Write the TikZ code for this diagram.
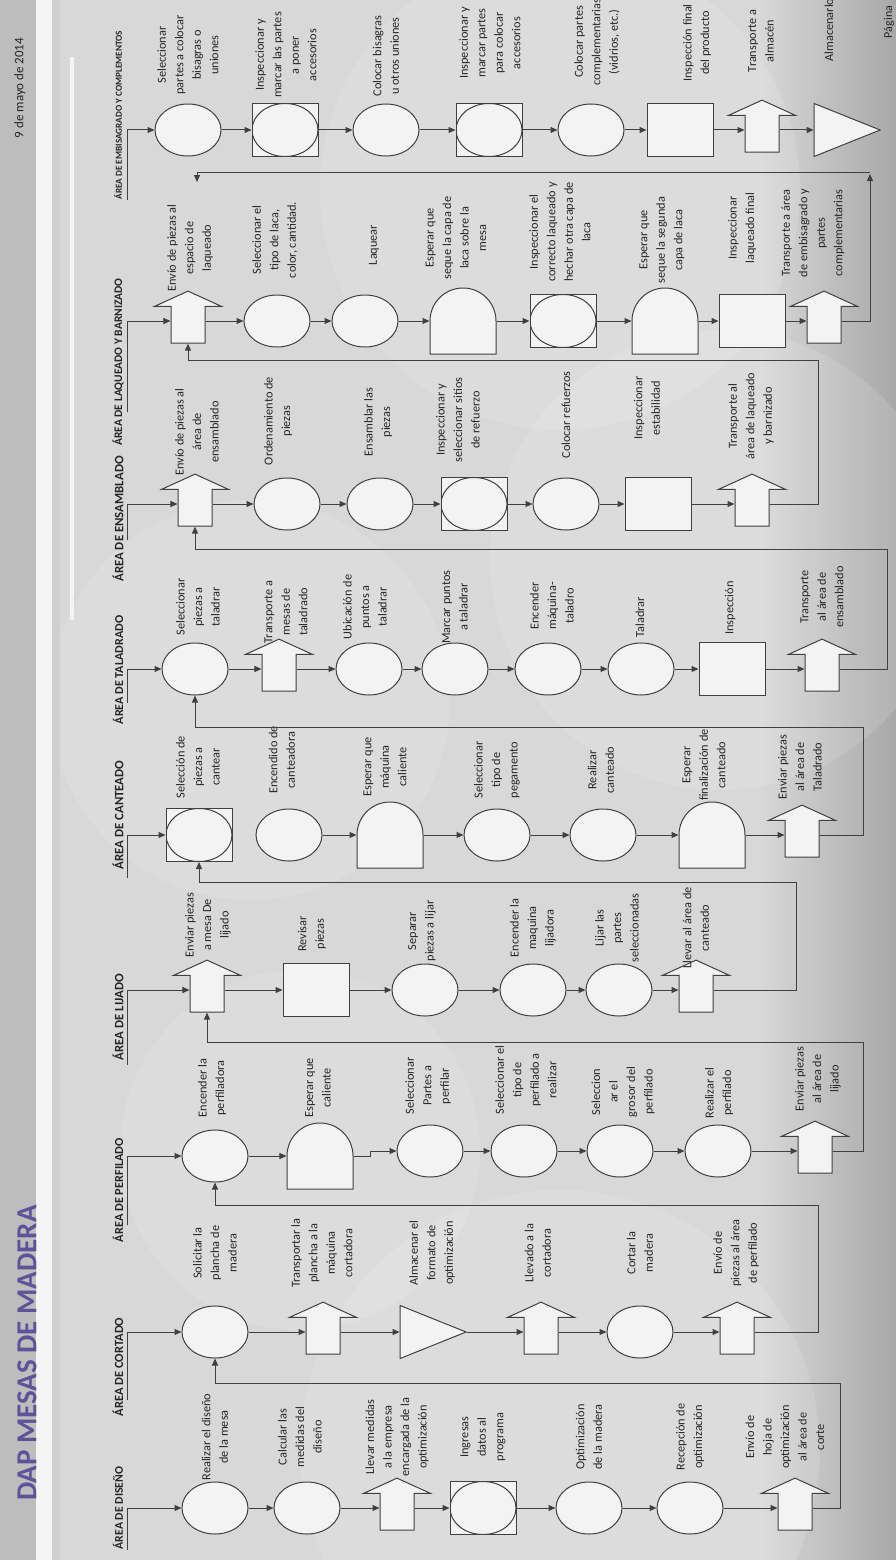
\documentclass[tikz,border=0pt]{standalone}
\usepackage{fontspec}
\setmainfont{Carlito}
\usetikzlibrary{shapes.geometric,shapes.arrows,shapes.misc,arrows.meta}

\definecolor{linea}{HTML}{404040}
\definecolor{relleno}{HTML}{F3F3F3}
\definecolor{fondo}{HTML}{D8D8D8}
\definecolor{fondoosc}{HTML}{A8A8A8}
\definecolor{banda}{HTML}{BDBDBD}
\definecolor{titulo}{HTML}{5E5399}
\definecolor{texto}{HTML}{262626}

\tikzset{
  forma/.style={draw=linea, line width=1pt, fill=relleno, inner sep=0pt},
  operacion/.style={forma, ellipse, minimum width=66pt, minimum height=52pt},
  inspeccion/.style={forma, rectangle, minimum width=66pt, minimum height=53pt},
  combinada/.style={inspeccion, path picture={\draw[linea, line width=1pt] (path picture bounding box.center) ellipse (33pt and 26.5pt);}},
  transporte/.style={forma, single arrow, shape border rotate=90, single arrow tip angle=131,
    single arrow head extend=16.5pt, inner sep=16.5pt, minimum height=52pt, minimum width=66pt},
  demora/.style={forma, rounded rectangle, rounded rectangle west arc=none, rotate=90,
    minimum width=53pt, minimum height=66pt},
  almacen/.style={forma, isosceles triangle, isosceles triangle apex angle=43,
    isosceles triangle stretches, minimum width=53pt, minimum height=66pt},
  etiqueta/.style={rotate=90, align=center, text=texto, inner sep=1pt, font=\fontsize{12.3}{17.5}\selectfont},
  area/.style={rotate=90, inner sep=1pt, text=texto, font=\bfseries\fontsize{#1}{14}\selectfont},
  area/.default=12.5,
  flujo/.style={draw=linea, line width=1pt, -{Triangle[length=7pt,width=6pt]}}
}

\begin{document}
\begin{tikzpicture}[x=1pt, y=-1pt]
    % fondo de la diapositiva
    \useasboundingbox (0,0) rectangle (896,1560);
    \fill[fondo] (0,0) rectangle (896,1560);
    \shade[left color=fondo, right color=fondoosc] (760,0) rectangle (896,1560);
    \foreach \cx/\cy/\r in {560/1450/260, 250/700/200, 720/560/230, 560/190/240, 300/1150/180}
        \fill[white, opacity=0.12] (\cx,\cy) circle (\r pt);
    \fill[banda] (0,0) rectangle (36,1560);
    \fill[gray!8] (36,0) rectangle (52,1560);
    \fill[gray!38] (52,0) rectangle (60,1560);
    \fill[white, opacity=0.7] (70,57) rectangle (74,620);

    % titulo, fecha y pie
    \node[rotate=90, text=titulo, font=\bfseries\fontsize{29}{32}\selectfont] (titol) at (27,1353) {DAP MESAS DE MADERA};
    \node[rotate=90, text=texto, font=\fontsize{13}{15}\selectfont] (fecha) at (20,88) {9 de mayo de 2014};
    \node[rotate=90, text=texto, font=\fontsize{12}{14}\selectfont] (pagina) at (889,22) {Página};

    % area de diseno
    \node[operacion]  (d1) at (215,1508) {};
    \node[operacion]  (d2) at (307,1508) {};
    \node[transporte] (d3) at (397,1508) {};
    \node[combinada]  (d4) at (483,1508) {};
    \node[operacion]  (d5) at (589,1508) {};
    \node[operacion]  (d6) at (690,1508) {};
    \node[transporte] (d7) at (795,1508) {};
    \node[etiqueta] (ld1) at (215,1437) {Realizar el diseño\\de la mesa};
    \node[etiqueta] (ld2) at (300,1437) {Calcular las\\medidas del\\diseño};
    \node[etiqueta] (ld3) at (397,1437) {Llevar medidas\\a la empresa\\encargada de la\\optimización};
    \node[etiqueta] (ld4) at (483,1437) {Ingresas\\datos al\\programa};
    \node[etiqueta] (ld5) at (589,1437) {Optimización\\de la madera};
    \node[etiqueta] (ld6) at (690,1437) {Recepción de\\optimización};
    \node[etiqueta] (ld7) at (785,1437) {Envío de\\hoja de\\optimización\\al área de\\corte};

    % area de cortado
    \node[operacion]  (c1) at (215,1332) {};
    \node[transporte] (c2) at (323,1332) {};
    \node[almacen]    (c3) at (418,1332) {};
    \node[transporte] (c4) at (541,1332) {};
    \node[operacion]  (c5) at (640,1332) {};
    \node[transporte] (c6) at (737,1332) {};
    \node[etiqueta] (lc1) at (215,1253) {Solicitar la\\plancha de\\madera};
    \node[etiqueta] (lc2) at (322,1253) {Transportar la\\plancha a la\\máquina\\cortadora};
    \node[etiqueta] (lc3) at (432,1253) {Almacenar el\\formato de\\optimización};
    \node[etiqueta] (lc4) at (538,1253) {Llevado a la\\cortadora};
    \node[etiqueta] (lc5) at (640,1253) {Cortar la\\madera};
    \node[etiqueta] (lc6) at (736,1253) {Envío de\\piezas al área\\de perfilado};

    % area de perfilado
    \node[operacion]  (p1) at (215,1156) {};
    \node[demora]     (p2) at (320,1156) {};
    \node[operacion]  (p3) at (430,1151) {};
    \node[operacion]  (p4) at (524,1151) {};
    \node[operacion]  (p5) at (620,1151) {};
    \node[operacion]  (p6) at (718,1151) {};
    \node[transporte] (p7) at (815,1151) {};
    \node[etiqueta] (lp1) at (212,1088) {Encender la\\perfiladora};
    \node[etiqueta] (lp2) at (318,1088) {Esperar que\\caliente};
    \node[etiqueta] (lp3) at (428,1086) {Seleccionar\\Partes a\\perfilar};
    \node[etiqueta] (lp4) at (526,1080) {Seleccionar el\\tipo de\\perfilado a\\realizar};
    \node[etiqueta] (lp5) at (623,1092) {Seleccion\\ar el\\grosor del\\perfilado};
    \node[etiqueta] (lp6) at (719,1093) {Realizar el\\perfilado};
    \node[etiqueta] (lp7) at (818,1079) {Enviar piezas\\al área de\\lijado};

    % area de lijado
    \node[transporte] (l1) at (207,990) {};
    \node[inspeccion] (l2) at (316,990) {};
    \node[operacion]  (l3) at (425,990) {};
    \node[operacion]  (l4) at (533,990) {};
    \node[operacion]  (l5) at (619,990) {};
    \node[transporte] (l6) at (696,990) {};
    \node[etiqueta] (ll1) at (208,925) {Enviar piezas\\a mesa De\\lijado};
    \node[etiqueta] (ll2) at (312,934) {Revisar\\piezas};
    \node[etiqueta] (ll3) at (422,931) {Separar\\piezas a lijar};
    \node[etiqueta] (ll4) at (533,928) {Encender la\\maquina\\lijadora};
    \node[etiqueta] (ll5) at (617,928) {Lijar las\\partes\\seleccionadas};
    \node[etiqueta] (ll6) at (696,928) {Llevar al área de\\canteado};

    % area de canteado
    \node[combinada]  (k1) at (199,835) {};
    \node[operacion]  (k2) at (289,835) {};
    \node[demora]     (k3) at (390,835) {};
    \node[operacion]  (k4) at (497,835) {};
    \node[operacion]  (k5) at (603,835) {};
    \node[demora]     (k6) at (712,835) {};
    \node[transporte] (k7) at (802,835) {};
    \node[etiqueta] (lk1) at (198,767) {Selección de\\piezas a\\cantear};
    \node[etiqueta] (lk2) at (282,760) {Encendido de\\canteadora};
    \node[etiqueta] (lk3) at (385,767) {Esperar que\\máquina\\caliente};
    \node[etiqueta] (lk4) at (497,770) {Seleccionar\\tipo de\\pegamento};
    \node[etiqueta] (lk5) at (601,770) {Realizar\\canteado};
    \node[etiqueta] (lk6) at (704,765) {Esperar\\finalización de\\canteado};
    \node[etiqueta] (lk7) at (800,767) {Enviar piezas\\al área de\\Taladrado};

    % area de taladrado
    \node[operacion]  (t1) at (195,669) {};
    \node[transporte] (t2) at (279,669) {};
    \node[operacion]  (t3) at (369,669) {};
    \node[operacion]  (t4) at (455,669) {};
    \node[operacion]  (t5) at (548,669) {};
    \node[operacion]  (t6) at (641,669) {};
    \node[inspeccion] (t7) at (732,669) {};
    \node[transporte] (t8) at (822,669) {};
    \node[etiqueta] (lt1) at (198,607) {Seleccionar\\piezas a\\taladrar};
    \node[etiqueta] (lt2) at (286,612) {Transporte a\\mesas de\\taladrado};
    \node[etiqueta] (lt3) at (365,607) {Ubicación de\\puntos a\\taladrar};
    \node[etiqueta] (lt4) at (455,607) {Marcar puntos\\a taladrar};
    \node[etiqueta] (lt5) at (552,606) {Encender\\máquina-\\taladro};
    \node[etiqueta] (lt6) at (640,617) {Taladrar};
    \node[etiqueta] (lt7) at (730,608) {Inspección};
    \node[etiqueta] (lt8) at (822,597) {Transporte\\al área de\\ensamblado};

    % area de ensamblado
    \node[transporte] (e1) at (195,504) {};
    \node[operacion]  (e2) at (287,504) {};
    \node[operacion]  (e3) at (380,504) {};
    \node[combinada]  (e4) at (474,504) {};
    \node[operacion]  (e5) at (566,504) {};
    \node[inspeccion] (e6) at (658,504) {};
    \node[transporte] (e7) at (752,504) {};
    \node[etiqueta] (le1) at (197,432) {Envío de piezas al\\área de\\ensamblado};
    \node[etiqueta] (le2) at (278,421) {Ordenamiento de\\piezas};
    \node[etiqueta] (le3) at (378,422) {Ensamblar las\\piezas};
    \node[etiqueta] (le4) at (458,420) {Inspeccionar y\\seleccionar sitios\\de refuerzo};
    \node[etiqueta] (le5) at (566,415) {Colocar refuerzos};
    \node[etiqueta] (le6) at (647,408) {Inspeccionar\\estabilidad};
    \node[etiqueta] (le7) at (751,416) {Transporte al\\área de laqueado\\y barnizado};

    % area de laqueado y barnizado
    \node[transporte] (q1) at (188,321) {};
    \node[operacion]  (q2) at (277,321) {};
    \node[operacion]  (q3) at (365,321) {};
    \node[demora]     (q4) at (463,321) {};
    \node[combinada]  (q5) at (563,321) {};
    \node[demora]     (q6) at (665,321) {};
    \node[inspeccion] (q7) at (752,321) {};
    \node[transporte] (q8) at (824,321) {};
    \node[etiqueta] (lq1) at (190,248) {Envío de piezas al\\espacio de\\laqueado};
    \node[etiqueta] (lq2) at (275,240) {Seleccionar el\\tipo de laca,\\color, cantidad.};
    \node[etiqueta] (lq3) at (374,245) {Laquear};
    \node[etiqueta] (lq4) at (456,238) {Esperar que\\seque la capa de\\laca sobre la\\mesa};
    \node[etiqueta] (lq5) at (560,232) {Inspeccionar el\\correcto laqueado y\\hechar otra capa de\\laca};
    \node[etiqueta] (lq6) at (662,240) {Esperar que\\seque la segunda\\capa de laca};
    \node[etiqueta] (lq7) at (742,228) {Inspeccionar\\laqueado final};
    \node[etiqueta] (lq8) at (813,233) {Transporte a área\\de embisagrado y\\partes\\complementarias};

    % area de embisagrado y complementos
    \node[operacion]  (b1) at (188,130) {};
    \node[combinada]  (b2) at (285,130) {};
    \node[operacion]  (b3) at (386,130) {};
    \node[combinada]  (b4) at (489,130) {};
    \node[operacion]  (b5) at (591,130) {};
    \node[inspeccion] (b6) at (680,130) {};
    \node[transporte] (b7) at (762,130) {};
    \node[almacen]    (b8) at (832,130) {};
    \node[etiqueta] (lb1) at (188,55) {Seleccionar\\partes a colocar\\bisagras o\\uniones};
    \node[etiqueta] (lb2) at (286,55) {Inspeccionar y\\marcar las partes\\a poner\\accesorios};
    \node[etiqueta] (lb3) at (386,56) {Colocar bisagras\\u otros uniones};
    \node[etiqueta] (lb4) at (490,43) {Inspeccionar y\\marcar partes\\para colocar\\accesorios};
    \node[etiqueta] (lb5) at (597,42) {Colocar partes\\complementarias\\(vidrios, etc.)};
    \node[etiqueta] (lb6) at (697,43) {Inspección final\\del producto};
    \node[etiqueta] (lb7) at (761,41) {Transporte a\\almacén};
    \node[etiqueta] (lb8) at (829,30) {Almacenarlo};

    % cabeceras de area y linea de entrada
    \node[area=11.8] (hd) at (118,1508) {ÁREA DE DISEÑO};
    \node[area=12.5] (hc) at (118,1367) {ÁREA DE CORTADO};
    \node[area=12.3] (hp) at (118,1190) {ÁREA DE PERFILADO};
    \node[area=12.8] (hl) at (118,1017) {ÁREA DE LIJADO};
    \node[area=12.8] (hk) at (118,815) {ÁREA DE CANTEADO};
    \node[area=12.1] (ht) at (118,670) {ÁREA DE TALADRADO};
    \node[area=12.8] (he) at (118,519) {ÁREA DE ENSAMBLADO};
    \node[area=11.5] (hq) at (118,362) {ÁREA DE LAQUEADO Y BARNIZADO};
    \node[area=9.2]  (hb) at (118,115) {ÁREA DE EMBISAGRADO Y COMPLEMENTOS};
    \foreach \n/\ys in {d/1550, c/1400, p/1225, l/1065, k/878, t/703, e/540, q/412, b/200}
        \coordinate (s\n) at (127,\ys);
    \foreach \a/\b in {sd/d1, sc/c1, sp/p1, sl/l1, sk/k1, st/t1, se/e1, sq/q1, sb/b1}
        \draw[flujo] (\a) |- (\b);

    % flechas dentro de cada area
    \foreach \a/\b in {d1/d2, d2/d3, d3/d4, d4/d5, d5/d6, d6/d7,
                       c1/c2, c2/c3, c3/c4, c4/c5, c5/c6,
                       p1/p2, p3/p4, p4/p5, p5/p6, p6/p7,
                       l1/l2, l2/l3, l3/l4, l4/l5, l5/l6,
                       k2/k3, k3/k4, k4/k5, k5/k6, k6/k7,
                       t1/t2, t2/t3, t3/t4, t4/t5, t5/t6, t6/t7, t7/t8,
                       e1/e2, e2/e3, e3/e4, e4/e5, e5/e6, e6/e7,
                       q1/q2, q2/q3, q3/q4, q4/q5, q5/q6, q6/q7, q7/q8,
                       b1/b2, b2/b3, b3/b4, b4/b5, b5/b6, b6/b7, b7/b8}
        \draw[flujo] (\a) -- (\b);
    \draw[flujo] (p2) -- ++(50,0) |- (p3);

    % retornos hacia el area siguiente
    \draw[flujo] (d7) -| (840,1383) -| (c1);
    \draw[flujo] (c6) -| (818,1205) -| (p1);
    \draw[flujo] (p7) -| (863,1042) -| (l1);
    \draw[flujo] (l6) -| (796,882) -| (k1);
    \draw[flujo] (k7) -| (863,727) -| (t1);
    \draw[flujo] (t8) -| (887,549) -| (e1);
    \draw[flujo] (e7) -| (818,360) -| (q1);
    \coordinate (fq) at (870,174);
    \coordinate (iq) at (870,172);
    \coordinate (fb) at (197,182);
    \draw[flujo] (q8) -| (fq);
    \draw[flujo] (iq) -| (fb);

\end{tikzpicture}
\end{document}
